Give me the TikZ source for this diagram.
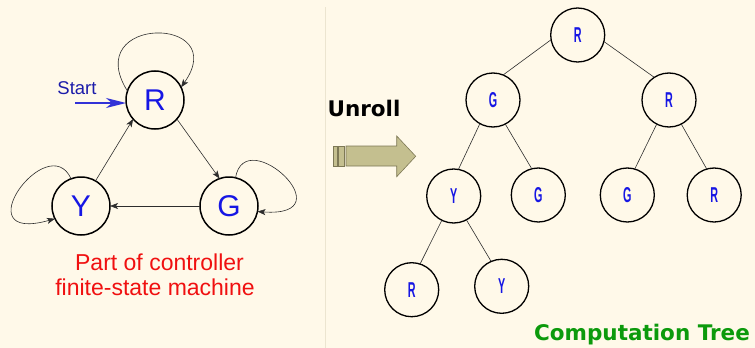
\documentclass[tikz,border=0pt]{standalone}
\usepackage{graphicx}
\usepackage{fontspec}
\setmainfont{Liberation Sans}
\newfontfamily\headfont{DejaVu Sans}
\usetikzlibrary{arrows.meta}

\definecolor{paper}{RGB}{255,249,233}
\definecolor{divider}{RGB}{236,229,208}
\definecolor{statetext}{RGB}{22,22,228}
\definecolor{starttext}{RGB}{28,28,170}
\definecolor{startarrow}{RGB}{50,50,215}
\definecolor{edgegray}{RGB}{45,45,45}
\definecolor{captionred}{RGB}{240,16,16}
\definecolor{treegreen}{RGB}{12,154,12}
\definecolor{khaki}{RGB}{196,191,143}
\definecolor{khakiline}{RGB}{125,120,85}

% condensed letter used inside the tree nodes
\newcommand{\treelabel}[1]{\scalebox{0.5}[1]{\fontsize{21.5}{21.5}\selectfont\bfseries #1}}

\begin{document}
\begin{tikzpicture}[x=1pt,y=-1pt,
  state/.style={circle,draw=black,line width=1.5pt,minimum size=58pt,
    inner sep=0pt,outer sep=0pt,text=statetext,
    font=\fontsize{30}{30}\selectfont},
  tnode/.style={circle,draw=black,line width=1.3pt,minimum size=54pt,
    inner sep=0pt,outer sep=0pt,text=statetext},
  link/.style={draw=edgegray,line width=0.6pt},
  move/.style={link,-{Stealth[length=8pt,width=6pt,inset=2pt]}},
  caption/.style={anchor=base,inner sep=0pt,text=captionred,
    font=\fontsize{23}{23}\selectfont},
  heading/.style={anchor=base,inner sep=0pt,
    font=\headfont\bfseries\fontsize{21.5}{21.5}\selectfont}]

\fill[paper] (0,0) rectangle (755,348);
\useasboundingbox (0,0) rectangle (755,348);
\draw[divider,line width=0.8pt] (325.5,7) -- (325.5,348);

% ---- finite-state machine ----
\node[state] (R) at (155,100) {R};
\node[state] (G) at (229,206) {G};
\node[state] (Y) at (81,206) {Y};

\node[anchor=base,inner sep=0pt,text=starttext,
  font=\fontsize{18.5}{18.5}\selectfont] (startlbl) at (77,94) {Start};
\coordinate (startfrom) at (75,103);
\draw[startarrow,line width=1.5pt,
  -{Stealth[length=20pt,width=10pt,inset=6pt]}] (startfrom) -- (R.west |- startfrom);

\draw[move] (R.-41) -- (G.109);
\draw[move] (G.180) -- (Y.0);
\draw[move] (Y.60) -- (R.221);

% self loops
\draw[move] (R.162) .. controls (80,15) and (232,15) .. (R.26);
\draw[move] (G.77) .. controls (245,122) and (348,218) .. (G.-11);
\draw[move] (Y.110) .. controls (48,128) and (-38,245) .. (Y.206);

\node[caption] (cap1) at (159.5,270.7) {Part of controller};
\node[caption] (cap2) at (155,295) {finite-state machine};

% ---- unroll arrow ----
\node[heading,text=black] (unroll) at (364,116) {Unroll};
\draw[khakiline,line width=0.6pt,fill=khaki]
  (333.3,146) rectangle (337.7,166)
  (338.5,146) rectangle (344.3,166);
\draw[khakiline,line width=0.6pt,fill=khaki,line join=miter]
  (346,146) -- (396.7,146) -- (396.7,136) -- (415.7,156.3)
  -- (396.7,176.7) -- (396.7,166) -- (346,166) -- cycle;

% ---- computation tree ----
\node[tnode] (t0) at (577.7,35)  {\treelabel{R}};
\node[tnode] (t1) at (493,100)   {\treelabel{G}};
\node[tnode] (t2) at (669,100)   {\treelabel{R}};
\node[tnode] (t3) at (453.7,196) {\treelabel{Y}};
\node[tnode] (t4) at (538.3,195) {\treelabel{G}};
\node[tnode] (t5) at (627.3,195) {\treelabel{G}};
\node[tnode] (t6) at (714.2,195) {\treelabel{R}};
\node[tnode] (t7) at (411.7,289.7) {\treelabel{R}};
\node[tnode] (t8) at (501.7,286.3) {\treelabel{Y}};

\draw[link] (t0.190) -- (t1.68);
\draw[link] (t0.-14) -- (t2.123);
\draw[link] (t1.-119) -- (t3.80);
\draw[link] (t1.-63) -- (t4.104);
\draw[link] (t2.-117) -- (t5.74);
\draw[link] (t2.-63) -- (t6.106);
\draw[link] (t3.-116) -- (t7.72);
\draw[link] (t3.-62) -- (t8.113);

\node[heading,text=treegreen] (ctree) at (642,340) {Computation Tree};
\end{tikzpicture}
\end{document}
